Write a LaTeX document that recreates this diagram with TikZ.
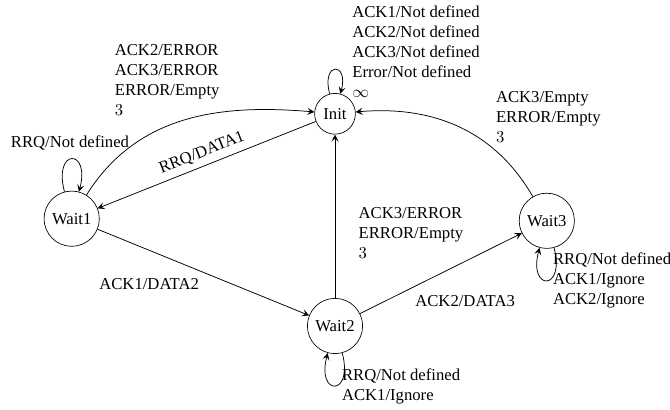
\documentclass[tikz,border=0pt]{standalone}
\usepackage{fontspec}
\setmainfont{Liberation Serif}
\usetikzlibrary{arrows.meta}
\begin{document}
\begin{tikzpicture}[x=0.6pt,y=0.6pt,
  st/.style={draw,circle,inner sep=.3333em},
  lbl/.style={inner sep=0pt,align=left},
  tr/.style={-{Stealth[length=4.2pt,width=4.2pt,inset=1.8pt]},line width=0.45pt},
  lp/.style={tr,looseness=8,min distance=5mm}]
\useasboundingbox (0,0) rectangle (670,410);
% states
\node[st] (init) at (335,296.2) {Init};
\node[st] (w1) at (71.7,191.3) {Wait1};
\node[st] (w2) at (335,84) {Wait2};
\node[st] (w3) at (546.8,189.2) {Wait3};
% transitions
\draw[tr] (w1) to[out=58,in=175] (init);
\draw[tr] (init) -- node[midway,sloped,above] (lb) {RRQ/DATA1} (w1);
\draw[tr] (w3) to[out=120,in=5] (init);
\draw[tr] (w2) -- (init);
\draw[tr] (w1) -- (w2);
\draw[tr] (w2) -- (w3);
% loops
\draw[lp] (init) to[out=105,in=75] (init);
\draw[lp] (w1) to[out=105,in=75] (w1);
\draw[lp] (w2) to[out=285,in=255] (w2);
\draw[lp] (w3) to[out=285,in=255] (w3);
% labels
\node[lbl,anchor=north west] (la) at (114.5,366.3) {ACK2/ERROR\\ACK3/ERROR\\ERROR/Empty\\$3$};
\node[lbl,anchor=base] (lc) at (70,262) {RRQ/Not defined};
\node[lbl,anchor=north west] (ld) at (352,404.3) {ACK1/Not defined\\ACK2/Not defined\\ACK3/Not defined\\Error/Not defined\\$\infty$};
\node[lbl,anchor=north west] (le) at (495.7,318.6) {ACK3/Empty\\ERROR/Empty\\$3$};
\node[lbl,anchor=north west] (lf) at (358.3,203) {ACK3/ERROR\\ERROR/Empty\\$3$};
\node[lbl,anchor=base west] (lg) at (99,120) {ACK1/DATA2};
\node[lbl,anchor=base west] (lh) at (415,103.3) {ACK2/DATA3};
\node[lbl,anchor=north west] (li) at (341.7,41.3) {RRQ/Not defined\\ACK1/Ignore};
\node[lbl,anchor=north west] (lj) at (552.7,158) {RRQ/Not defined\\ACK1/Ignore\\ACK2/Ignore};
\end{tikzpicture}
\end{document}
